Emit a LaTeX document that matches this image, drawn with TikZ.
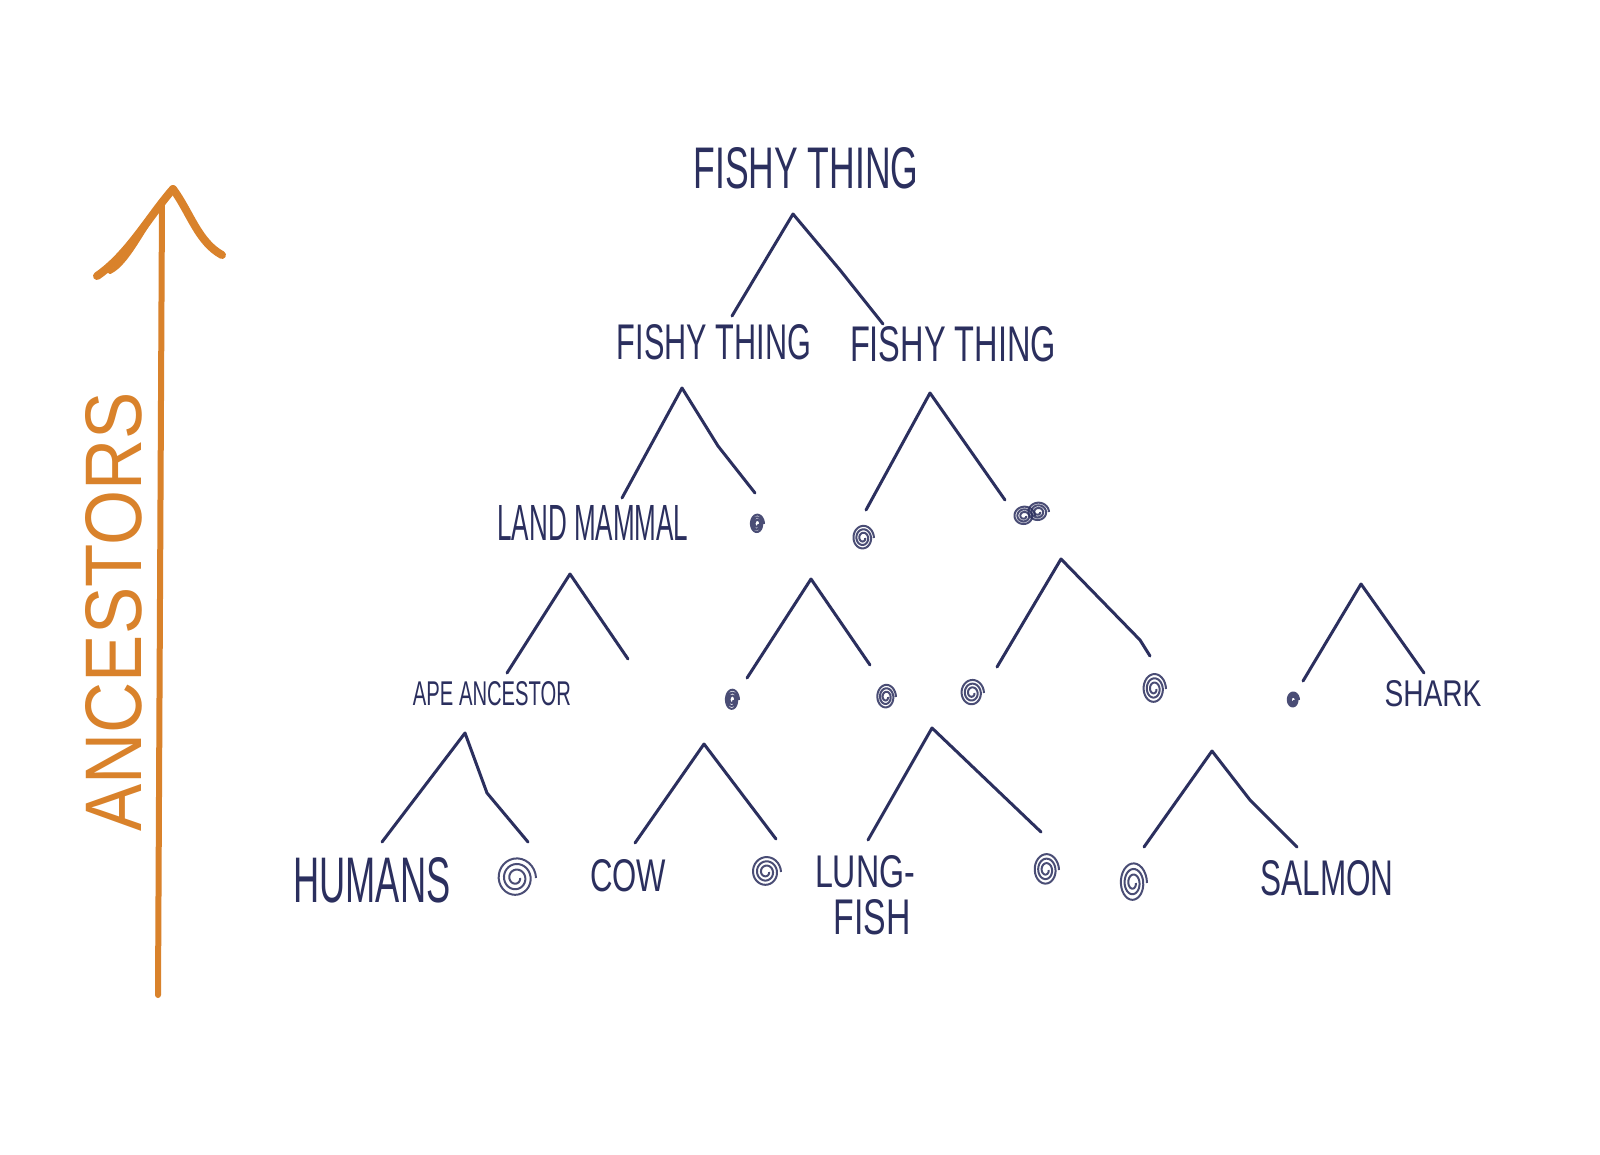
\documentclass[tikz,border=0pt]{standalone}
\usepackage{fontspec}
\setmainfont{Liberation Sans}
\usepackage{graphicx}
\definecolor{ink}{HTML}{2B2F5E}
\definecolor{amber}{HTML}{D9822B}
\newcommand{\hw}[3]{\resizebox{#1pt}{#2pt}{#3}}
\newcommand{\swirl}[5]{%
  \coordinate (#1) at (#2,#3);
  \draw[swirlline] plot[smooth, domain=0:1080, samples=90, variable=\t]
    ({#2+(0.2+0.8*\t/1080)*#4*cos(\t)}, {#3+(0.2+0.8*\t/1080)*#5*sin(\t)});
}
\tikzset{
  lbl/.style={inner sep=0pt, text=ink},
  branch/.style={draw=ink, line width=3pt, line cap=round, line join=round},
  swirlline/.style={draw=ink, line width=2pt, opacity=0.85},
  axisline/.style={draw=amber, line width=6pt, line cap=round},
  headline/.style={draw=amber, line width=8pt, line cap=round, line join=round}
}
\begin{document}
\begin{tikzpicture}[x=1pt, y=-1pt]
\useasboundingbox[fill=white] (0,0) rectangle (1600,1155);

% ---- axis arrow ----
\coordinate (axbot) at (158,995);
\coordinate (axtop) at (162,202);
\coordinate (tip) at (173,189);
\coordinate (barbL) at (97,276);
\coordinate (barbR) at (222,255);
\draw[axisline] (axbot) -- (axtop) -- (tip);
\draw[headline] (tip) .. controls (150,215) and (128,255) .. (barbL);
\draw[headline, line width=4pt] (tip) .. controls (145,222) and (130,262) .. (110,272);
\draw[headline] (tip) .. controls (190,212) and (198,242) .. (barbR);
\node[inner sep=0pt, text=amber, rotate=90] (ancestors) at (114,612) {\hw{439}{56}{ANCESTORS}};

% ---- labels ----
\node[lbl] (ft0) at (806,168) {\hw{225}{41}{FISHY THING}};
\node[lbl] (ft1) at (714,342) {\hw{194}{35}{FISHY THING}};
\node[lbl] (ft2) at (953,344) {\hw{206}{35}{FISHY THING}};
\node[lbl] (land) at (593,523) {\hw{191}{35}{LAND MAMMAL}};
\node[lbl] (ape) at (492,694) {\hw{158}{24}{APE ANCESTOR}};
\node[lbl] (shark) at (1433,694) {\hw{97}{26}{SHARK}};
\node[lbl] (humans) at (372,880) {\hw{157}{45}{HUMANS}};
\node[lbl] (cow) at (628,876) {\hw{76}{32}{COW}};
\node[lbl] (lung) at (865,872) {\hw{100}{32}{LUNG-}};
\node[lbl] (fish) at (872,917) {\hw{77}{35}{FISH}};
\node[lbl] (salmon) at (1327,878) {\hw{133}{35}{SALMON}};

% ---- swirls (unnamed leaves) ----
\swirl{s1}{757}{524}{7}{10}
\swirl{s2}{863}{538}{11}{13}
\swirl{s3a}{1024}{516}{11}{10}
\swirl{s3b}{1038}{512}{11}{10}
\swirl{s4}{732}{700}{7}{11}
\swirl{s5}{886}{697}{10}{13}
\swirl{s6}{972}{693}{12}{14}
\swirl{s7}{1154}{689}{12}{16}
\swirl{s8}{1293}{700}{6}{8}
\swirl{s9}{516}{878}{20}{21}
\swirl{s10}{766}{872}{15}{16}
\swirl{s11}{1046}{870}{13}{17}
\swirl{s12}{1133}{883}{14}{21}

% ---- level 1 ----
\coordinate (a0) at (793,214);
\coordinate (a0l) at (732,316);
\coordinate (a0k) at (840,270);
\coordinate (a0r) at (883,324);
\draw[branch] (a0l) -- (a0) -- (a0k) -- (a0r);

% ---- level 2 ----
\coordinate (a1) at (682,388);
\coordinate (a1l) at (622,498);
\coordinate (a1k) at (718,446);
\coordinate (a1r) at (755,493);
\draw[branch] (a1l) -- (a1) -- (a1k) -- (a1r);
\coordinate (a2) at (930,393);
\coordinate (a2l) at (866,510);
\coordinate (a2r) at (1005,500);
\draw[branch] (a2l) -- (a2) -- (a2r);

% ---- level 3 ----
\coordinate (b1) at (570,574);
\coordinate (b1l) at (507,673);
\coordinate (b1r) at (628,659);
\draw[branch] (b1l) -- (b1) -- (b1r);
\coordinate (b2) at (811,579);
\coordinate (b2l) at (747,678);
\coordinate (b2r) at (870,665);
\draw[branch] (b2l) -- (b2) -- (b2r);
\coordinate (b3) at (1061,559);
\coordinate (b3l) at (997,667);
\coordinate (b3k) at (1140,640);
\coordinate (b3r) at (1150,656);
\draw[branch] (b3l) -- (b3) -- (b3k) -- (b3r);
\coordinate (b4) at (1361,584);
\coordinate (b4l) at (1303,681);
\coordinate (b4r) at (1424,673);
\draw[branch] (b4l) -- (b4) -- (b4r);

% ---- level 4 ----
\coordinate (c1) at (465,733);
\coordinate (c1l) at (382,842);
\coordinate (c1k) at (487,793);
\coordinate (c1r) at (528,842);
\draw[branch] (c1l) -- (c1) -- (c1k) -- (c1r);
\coordinate (c2) at (704,744);
\coordinate (c2l) at (635,843);
\coordinate (c2r) at (776,839);
\draw[branch] (c2l) -- (c2) -- (c2r);
\coordinate (c3) at (932,728);
\coordinate (c3l) at (868,840);
\coordinate (c3r) at (1041,832);
\draw[branch] (c3l) -- (c3) -- (c3r);
\coordinate (c4) at (1212,751);
\coordinate (c4l) at (1144,847);
\coordinate (c4k) at (1250,800);
\coordinate (c4r) at (1297,847);
\draw[branch] (c4l) -- (c4) -- (c4k) -- (c4r);
\end{tikzpicture}
\end{document}
